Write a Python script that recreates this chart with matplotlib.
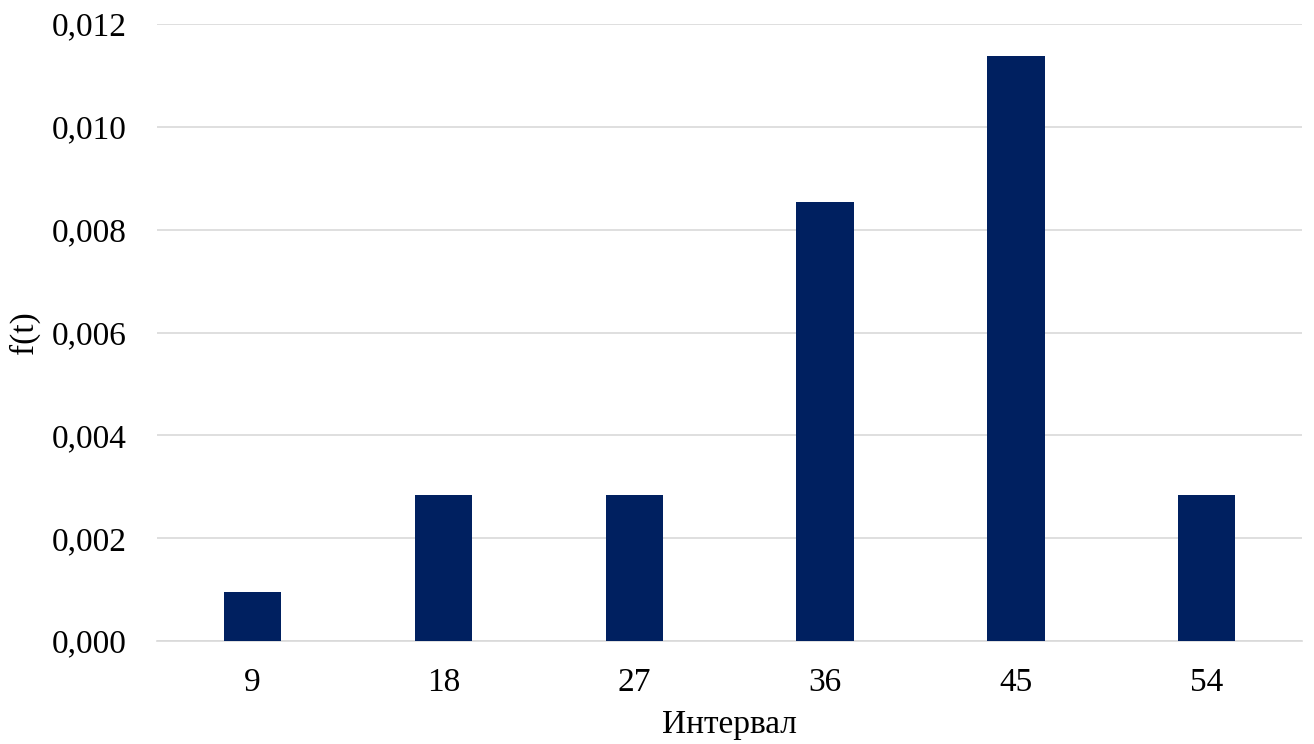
import matplotlib
matplotlib.use("Agg")
import matplotlib.pyplot as plt
from matplotlib.ticker import FuncFormatter, MultipleLocator

categories = ["9", "18", "27", "36", "45", "54"]
density = [0.00095, 0.00284, 0.00284, 0.00853, 0.01138, 0.00284]

plt.rcParams["font.family"] = ["Liberation Serif", "DejaVu Serif"]

fig = plt.figure(figsize=(13.14, 7.44), dpi=100)
ax = fig.add_axes([0.1195, 0.1384, 0.8715, 0.8293])

x = range(len(categories))
ax.bar(x, density, width=0.30, color="#002060", zorder=3)

ax.set_xlim(-0.5, len(categories) - 0.5)
ax.set_ylim(0, 0.012)
ax.yaxis.set_major_locator(MultipleLocator(0.002))
ax.yaxis.set_major_formatter(FuncFormatter(lambda v, p: f"{v:.3f}".replace(".", ",")))
ax.set_xticks(list(x))
ax.set_xticklabels(categories)

ax.grid(axis="y", color="#d9d9d9", linewidth=1.2, zorder=0)
for s in ["top", "right", "left"]:
    ax.spines[s].set_visible(False)
ax.spines["bottom"].set_color("#d9d9d9")
ax.spines["bottom"].set_linewidth(1.2)
ax.tick_params(axis="both", length=0, labelsize=24, colors="#000000")
ax.tick_params(axis="y", pad=22)
ax.tick_params(axis="x", pad=19)

ax.set_ylabel("f(t)", fontsize=24, labelpad=8)
ax.set_xlabel("Интервал", fontsize=24, labelpad=8)

fig.savefig("out.png", dpi=100)
